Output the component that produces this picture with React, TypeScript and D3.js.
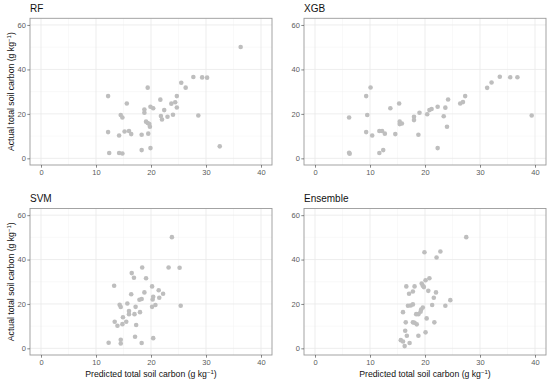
import React, { useEffect, useRef } from "react";
import * as d3 from "d3";

// values (predicted, actual) per model
const rfPred = [36.3, 12.2, 12.2, 12.4, 14.2, 14.8, 14.2, 14.5, 14.8, 15.6, 15.2, 16.0, 16.4, 18.3, 18.3, 19.4, 18.8, 18.8, 19.1, 19.4, 19.7, 19.8, 19.5, 19.9, 19.9, 20.4, 21.7, 21.8, 22.0, 22.4, 23.0, 23.7, 24.0, 24.4, 24.7, 24.7, 25.5, 26.3, 27.7, 29.3, 30.2, 28.6, 32.5];
const rfActual = [50.1, 28.0, 11.8, 2.4, 2.4, 2.2, 10.3, 19.5, 18.4, 24.7, 12.1, 12.3, 10.9, 10.6, 3.7, 31.8, 22.0, 20.5, 16.5, 15.9, 15.4, 14.2, 11.1, 4.6, 23.2, 22.5, 26.4, 19.0, 17.5, 21.7, 18.7, 24.6, 19.6, 25.2, 28.0, 22.9, 34.0, 31.8, 36.6, 36.4, 36.3, 19.3, 5.4];

const xgbPred = [6.2, 6.2, 6.3, 9.3, 10.1, 9.5, 9.3, 10.4, 11.7, 12.2, 12.7, 11.7, 12.4, 13.7, 14.6, 15.3, 15.4, 15.4, 15.8, 18.0, 18.0, 18.8, 19.0, 20.4, 20.8, 21.2, 22.3, 22.3, 23.4, 23.7, 24.0, 24.2, 26.4, 26.9, 27.3, 31.3, 32.1, 33.6, 35.5, 36.8, 39.4];
const xgbActual = [18.4, 2.5, 2.1, 28.0, 31.9, 19.5, 11.8, 10.3, 12.3, 12.3, 11.1, 2.4, 3.7, 22.5, 10.9, 24.7, 16.5, 15.4, 15.7, 18.7, 17.2, 10.6, 20.5, 19.8, 21.7, 22.2, 23.2, 4.6, 18.9, 22.8, 14.2, 26.5, 24.7, 25.3, 28.0, 31.7, 34.1, 36.7, 36.5, 36.5, 19.3];

const svmPred = [23.8, 13.3, 13.4, 12.3, 13.9, 14.3, 14.5, 14.5, 14.5, 14.8, 14.9, 15.5, 15.7, 16.0, 16.0, 16.4, 16.5, 16.9, 17.0, 17.2, 17.1, 17.3, 17.9, 18.0, 18.3, 18.3, 18.4, 18.8, 19.1, 20.2, 20.2, 20.3, 20.4, 20.4, 20.8, 21.4, 21.5, 22.2, 23.2, 25.2, 25.4];
const svmActual = [50.1, 28.2, 12.0, 2.5, 10.2, 19.6, 18.6, 3.9, 2.2, 10.9, 14.0, 12.0, 20.2, 16.8, 15.4, 24.4, 33.9, 31.8, 15.4, 18.7, 5.2, 10.5, 21.9, 16.3, 22.2, 2.4, 36.4, 25.2, 31.6, 27.9, 18.7, 22.0, 23.2, 4.6, 19.5, 26.2, 22.8, 24.6, 36.4, 36.3, 19.2];

const ensPred = [27.5, 19.9, 22.8, 22.1, 20.8, 20.1, 19.4, 19.6, 19.8, 16.6, 18.1, 17.8, 17.1, 20.6, 22.0, 21.6, 24.6, 21.3, 23.7, 16.9, 17.4, 17.8, 19.6, 19.3, 19.2, 18.8, 18.4, 16.0, 16.5, 17.8, 18.1, 18.5, 20.3, 21.7, 16.4, 16.7, 18.8, 20.1, 15.6, 16.0, 17.2, 16.3];
const ensActual = [50.1, 43.3, 43.6, 40.9, 31.6, 30.7, 29.2, 28.2, 27.6, 27.9, 27.9, 25.6, 24.6, 25.9, 25.2, 22.8, 21.7, 19.5, 19.2, 19.2, 19.3, 19.8, 18.4, 17.5, 16.5, 15.4, 15.4, 16.3, 11.7, 11.7, 11.5, 10.8, 13.5, 11.7, 7.9, 5.7, 5.7, 7.2, 3.7, 3.1, 2.4, 1.0];

const xTicks = [0, 10, 20, 30, 40];
const xMinor = [5, 15, 25, 35];
const yTicks = [0, 20, 40, 60];
const yMinor = [10, 30, 50];

const panels = [
  { title: "RF", pred: rfPred, actual: rfActual, x0: 30, x1: 272, y0: 18.3, y1: 165, yTitle: true, xTitle: false },
  { title: "XGB", pred: xgbPred, actual: xgbActual, x0: 304, x1: 546, y0: 18.3, y1: 165, yTitle: false, xTitle: false },
  { title: "SVM", pred: svmPred, actual: svmActual, x0: 30, x1: 272, y0: 208.5, y1: 355, yTitle: true, xTitle: true },
  { title: "Ensemble", pred: ensPred, actual: ensActual, x0: 304, x1: 546, y0: 208.5, y1: 355, yTitle: false, xTitle: true },
];

const font = "'Liberation Sans', Arial, sans-serif";

export default function App() {
  const ref = useRef<SVGSVGElement>(null);

  useEffect(() => {
    const svg = d3.select(ref.current);
    svg.selectAll("*").remove();

    panels.forEach((p) => {
      const x = d3.scaleLinear().domain([-2, 42]).range([p.x0, p.x1]);
      const y = d3.scaleLinear().domain([-3, 63]).range([p.y1, p.y0]);
      const g = svg.append("g");

      // background + grid
      g.append("rect").attr("x", p.x0).attr("y", p.y0)
        .attr("width", p.x1 - p.x0).attr("height", p.y1 - p.y0).attr("fill", "#fff");

      g.selectAll(".vminor").data(xMinor).enter().append("line")
        .attr("x1", (d) => x(d)).attr("x2", (d) => x(d))
        .attr("y1", p.y0).attr("y2", p.y1)
        .attr("stroke", "#f3f3f3").attr("stroke-width", 0.5);
      g.selectAll(".hminor").data(yMinor).enter().append("line")
        .attr("y1", (d) => y(d)).attr("y2", (d) => y(d))
        .attr("x1", p.x0).attr("x2", p.x1)
        .attr("stroke", "#f3f3f3").attr("stroke-width", 0.5);
      g.selectAll(".vmajor").data(xTicks).enter().append("line")
        .attr("x1", (d) => x(d)).attr("x2", (d) => x(d))
        .attr("y1", p.y0).attr("y2", p.y1)
        .attr("stroke", "#e8e8e8").attr("stroke-width", 0.8);
      g.selectAll(".hmajor").data(yTicks).enter().append("line")
        .attr("y1", (d) => y(d)).attr("y2", (d) => y(d))
        .attr("x1", p.x0).attr("x2", p.x1)
        .attr("stroke", "#e8e8e8").attr("stroke-width", 0.8);

      // points
      g.selectAll("circle").data(p.pred).enter().append("circle")
        .attr("cx", (d) => x(d)).attr("cy", (d, i) => y(p.actual[i]))
        .attr("r", 2.3).attr("fill", "#bebebe");

      // border
      g.append("rect").attr("x", p.x0).attr("y", p.y0)
        .attr("width", p.x1 - p.x0).attr("height", p.y1 - p.y0)
        .attr("fill", "none").attr("stroke", "#9a9a9a").attr("stroke-width", 0.9);

      // axes
      const xa = g.append("g").attr("transform", `translate(0,${p.y1})`)
        .call(d3.axisBottom(x).tickValues(xTicks).tickSize(2.7).tickPadding(2));
      const ya = g.append("g").attr("transform", `translate(${p.x0},0)`)
        .call(d3.axisLeft(y).tickValues(yTicks).tickSize(2.7).tickPadding(1.5));
      [xa, ya].forEach((a) => {
        a.select(".domain").remove();
        a.selectAll("line").attr("stroke", "#555").attr("stroke-width", 0.7);
        a.selectAll("text").attr("fill", "#5a5a5a").style("font-size", "7.5px").style("font-family", font);
      });

      // title
      g.append("text").attr("x", p.x0).attr("y", p.y0 - 6.5)
        .attr("fill", "#111").style("font-size", "10px").style("font-family", font)
        .text(p.title);

      const label = (t: d3.Selection<SVGTextElement, unknown, null, undefined>, main: string) => {
        t.style("font-size", "8.7px").style("font-family", font).attr("fill", "#111").attr("text-anchor", "middle");
        t.append("tspan").text(main + " (g kg");
        t.append("tspan").attr("dy", -3).style("font-size", "6px").text("\u22121");
        t.append("tspan").attr("dy", 3).text(")");
      };

      if (p.yTitle) {
        const t = g.append("text")
          .attr("transform", `translate(13.5,${(p.y0 + p.y1) / 2}) rotate(-90)`);
        label(t as any, "Actual total soil carbon");
      }
      if (p.xTitle) {
        const t = g.append("text").attr("x", (p.x0 + p.x1) / 2).attr("y", p.y1 + 21.5);
        label(t as any, "Predicted total soil carbon");
      }
    });
  }, []);

  return (
    <svg
      ref={ref}
      width={550}
      height={383}
      style={{ position: "absolute", left: 0, top: 0, background: "#fff" }}
    />
  );
}
